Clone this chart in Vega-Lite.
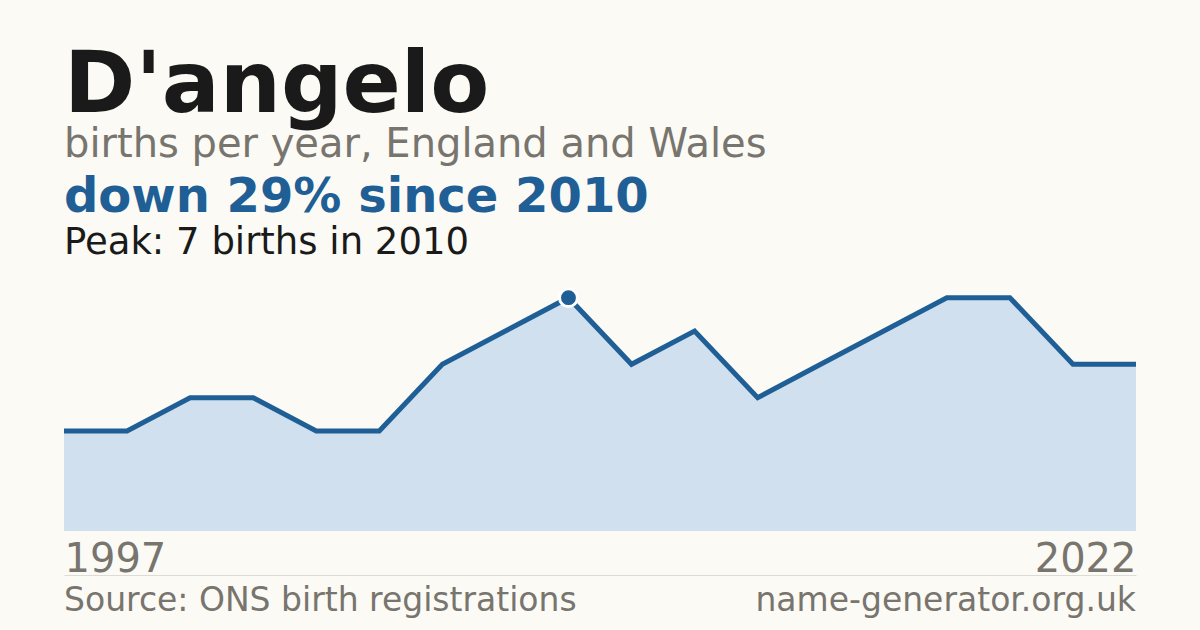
{
  "$schema": "https://vega.github.io/schema/vega-lite/v6.json",
  "background": "#fbfaf5",
  "padding": {"left": 54, "right": 64, "top": 43, "bottom": 8},
  "title": {
    "text": "D'angelo",
    "subtitle": "births per year, England and Wales",
    "anchor": "start",
    "dx": 10,
    "font": "DejaVu Sans",
    "fontSize": 86,
    "fontWeight": "bold",
    "color": "#1a1a1a",
    "subtitleFont": "DejaVu Sans",
    "subtitleFontSize": 40,
    "subtitleColor": "#78746e",
    "subtitlePadding": -5,
    "offset": 8
  },
  "bounds": "flush",
  "spacing": 44,
  "vconcat": [
    {
      "width": 1072,
      "height": 250,
      "title": {
        "text": "down 29% since 2010",
        "subtitle": "Peak: 7 births in 2010",
        "anchor": "start",
        "dx": 10,
        "font": "DejaVu Sans",
        "fontSize": 48,
        "fontWeight": "bold",
        "color": "#1f5f96",
        "subtitleFont": "DejaVu Sans",
        "subtitleFontSize": 37,
        "subtitleColor": "#1a1a1a",
        "subtitlePadding": 3,
        "offset": 20
      },
      "data": {
        "values": [
          {"year": 1997, "births": 3},
          {"year": 1998, "births": 3},
          {"year": 2001, "births": 4},
          {"year": 2002, "births": 4},
          {"year": 2004, "births": 3},
          {"year": 2006, "births": 3},
          {"year": 2007, "births": 5},
          {"year": 2009, "births": 6},
          {"year": 2010, "births": 7},
          {"year": 2011, "births": 5},
          {"year": 2012, "births": 6},
          {"year": 2014, "births": 4},
          {"year": 2015, "births": 5},
          {"year": 2016, "births": 6},
          {"year": 2018, "births": 7},
          {"year": 2019, "births": 7},
          {"year": 2021, "births": 5},
          {"year": 2022, "births": 5}
        ]
      },
      "encoding": {
        "x": {
          "field": "year",
          "type": "ordinal",
          "scale": {"type": "point", "padding": 0},
          "axis": {
            "values": [1997, 2022],
            "title": null,
            "ticks": false,
            "domain": false,
            "labelAngle": 0,
            "labelFont": "DejaVu Sans",
            "labelFontSize": 40,
            "labelColor": "#78746e",
            "labelPadding": 8,
            "labelAlign": {"condition": {"test": "datum.value == 1997", "value": "left"}, "value": "right"}
          }
        },
        "y": {
          "field": "births",
          "type": "quantitative",
          "scale": {"domain": [0, 7.5], "nice": false},
          "axis": null
        }
      },
      "layer": [
        {"mark": {"type": "area", "color": "#d0e0ef"}},
        {"mark": {"type": "line", "color": "#1f5f96", "strokeWidth": 5}},
        {
          "transform": [{"filter": "datum.year == 2010"}],
          "mark": {"type": "circle", "size": 320, "color": "#1f5f96", "opacity": 1, "stroke": "#ffffff", "strokeWidth": 3}
        }
      ]
    },
    {
      "width": 1072,
      "height": 52,
      "data": {
        "values": [
          {"side": "left", "label": "Source: ONS birth registrations"},
          {"side": "right", "label": "name-generator.org.uk"}
        ]
      },
      "encoding": {
        "x": {
          "field": "side",
          "type": "nominal",
          "scale": {"type": "point", "padding": 0, "domain": ["left", "right"]},
          "axis": {
            "orient": "top",
            "title": null,
            "labels": false,
            "ticks": false,
            "domain": true,
            "domainColor": "#dddbd5",
            "domainWidth": 1
          }
        },
        "text": {"field": "label"}
      },
      "layer": [
        {
          "transform": [{"filter": "datum.side == 'left'"}],
          "mark": {"type": "text", "align": "left", "baseline": "middle", "font": "DejaVu Sans", "fontSize": 33, "color": "#78746e"}
        },
        {
          "transform": [{"filter": "datum.side == 'right'"}],
          "mark": {"type": "text", "align": "right", "baseline": "middle", "font": "DejaVu Sans", "fontSize": 33, "color": "#78746e"}
        }
      ]
    }
  ],
  "config": {
    "font": "DejaVu Sans",
    "view": {"stroke": null}
  }
}
